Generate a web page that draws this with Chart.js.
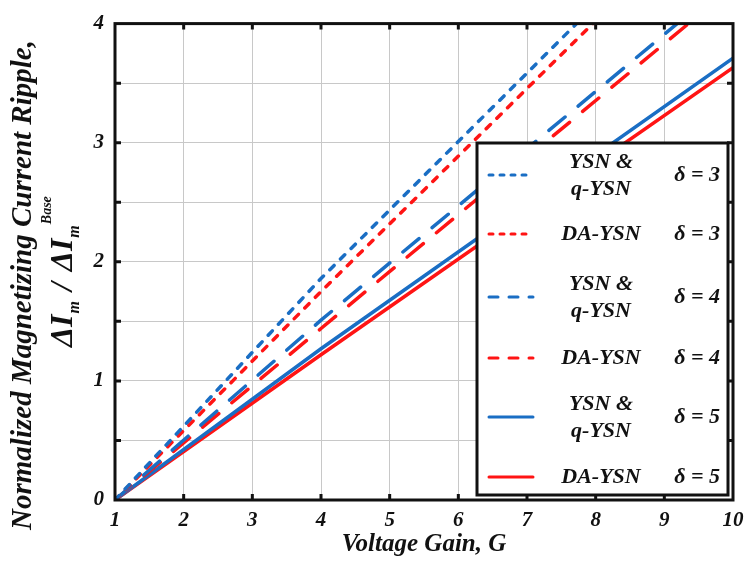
<!DOCTYPE html>
<html>
<head>
<meta charset="utf-8">
<script src="https://cdn.jsdelivr.net/npm/chart.js@4.4.1/dist/chart.umd.min.js"></script>
<style>
  html, body { margin: 0; padding: 0; background: #fff; }
</style>
</head>
<body>
<canvas id="rippleChart" width="752" height="565"></canvas>
<script>
// Normalized magnetizing current ripple vs voltage gain, read at G = 1, 4 and 10
const GAIN = [1, 4, 10];
const YSN_D3 = [0, 1.86, 5.31];   // leaves the top of the plot near G = 7.7
const DA_D3  = [0, 1.75, 5.16];
const YSN_D4 = [0, 1.51, 4.39];
const DA_D4  = [0, 1.44, 4.31];
const YSN_D5 = [0, 1.27, 3.71];
const DA_D5  = [0, 1.22, 3.63];

const X_MIN = 1, X_MAX = 10;
const Y_MIN = 0, Y_MAX = 4;

const LEGEND_NAMES = [["YSN &", "q-YSN"], ["DA-YSN"], ["YSN &", "q-YSN"], ["DA-YSN"], ["YSN &", "q-YSN"], ["DA-YSN"]];
const LEGEND_DELTAS = ["δ = 3", "δ = 3", "δ = 4", "δ = 4", "δ = 5", "δ = 5"];

const BLUE = "#1a6ec4";
const RED = "#ff1414";
const SERIF = "'Liberation Serif', 'Times New Roman', serif";
const SHORT_DASH = [6, 9];
const LONG_DASH = [21, 17];

function pts(ys) {
  return GAIN.map((g, i) => ({ x: g, y: ys[i] }));
}

function series(label, ys, color, dash) {
  return {
    label,
    data: pts(ys),
    borderColor: color,
    backgroundColor: color,
    borderWidth: 3.5,
    borderDash: dash,
    borderCapStyle: "round",
    pointRadius: 0,
    tension: 0,
    clip: 0,
  };
}

const datasets = [
  series("YSN & q-YSN δ=3", YSN_D3, BLUE, SHORT_DASH),
  series("DA-YSN δ=3", DA_D3, RED, SHORT_DASH),
  series("YSN & q-YSN δ=4", YSN_D4, BLUE, LONG_DASH),
  series("DA-YSN δ=4", DA_D4, RED, LONG_DASH),
  series("YSN & q-YSN δ=5", YSN_D5, BLUE, []),
  series("DA-YSN δ=5", DA_D5, RED, []),
];

// legend samples use a tighter dash than the plotted lines
const LEGEND_STYLE = [
  { color: BLUE, dash: [4, 7] }, { color: RED, dash: [4, 7] },
  { color: BLUE, dash: [9, 11] }, { color: RED, dash: [9, 11] },
  { color: BLUE, dash: [] }, { color: RED, dash: [] },
];
const LEGEND_ROWS = [175, 234, 297, 358, 417, 477];

// draws a run of text pieces along a rotated baseline, going upward from startY
function drawRotatedRun(ctx, x, startY, pieces) {
  ctx.save();
  ctx.translate(x, startY);
  ctx.rotate(-Math.PI / 2);
  ctx.textAlign = "left";
  ctx.textBaseline = "alphabetic";
  let pos = 0;
  for (const p of pieces) {
    ctx.font = p.f;
    pos += p.gap || 0;
    ctx.fillText(p.t, pos, p.dy || 0);
    pos += ctx.measureText(p.t).width;
  }
  ctx.restore();
}

// ---------------- frame, ticks, legend, titles ----------------
const decorPlugin = {
  id: "decor",
  afterDraw(chart) {
    const { ctx, chartArea: a, scales } = chart;
    const xs = scales.x, ys = scales.y;
    ctx.save();

    // inward tick marks
    ctx.strokeStyle = "#111";
    ctx.lineWidth = 3;
    ctx.setLineDash([]);
    ctx.beginPath();
    for (let v = X_MIN + 1; v < X_MAX; v++) {
      const px = xs.getPixelForValue(v);
      ctx.moveTo(px, a.bottom); ctx.lineTo(px, a.bottom - 6);
      ctx.moveTo(px, a.top); ctx.lineTo(px, a.top + 6);
    }
    for (let v = Y_MIN + 0.5; v < Y_MAX; v += 0.5) {
      const py = ys.getPixelForValue(v);
      ctx.moveTo(a.left, py); ctx.lineTo(a.left + 6, py);
      ctx.moveTo(a.right, py); ctx.lineTo(a.right - 6, py);
    }
    ctx.stroke();

    // legend box
    const lx = 477, ly = 143, lw = 251, lh = 352;
    ctx.fillStyle = "#fff";
    ctx.fillRect(lx, ly, lw, lh);
    ctx.lineWidth = 3;
    ctx.strokeStyle = "#111";
    ctx.strokeRect(lx, ly, lw, lh);

    ctx.textBaseline = "middle";
    LEGEND_ROWS.forEach((y, i) => {
      const st = LEGEND_STYLE[i];
      ctx.strokeStyle = st.color;
      ctx.lineWidth = 3;
      ctx.lineCap = "round";
      ctx.setLineDash(st.dash);
      ctx.beginPath();
      ctx.moveTo(489, y); ctx.lineTo(533, y);
      ctx.stroke();
      ctx.setLineDash([]);

      ctx.fillStyle = "#111";
      ctx.font = `bold italic 22px ${SERIF}`;
      ctx.textAlign = "center";
      const names = LEGEND_NAMES[i];
      if (names.length === 2) {
        ctx.fillText(names[0], 601, y - 13);
        ctx.fillText(names[1], 601, y + 14);
      } else {
        ctx.fillText(names[0], 601, y);
      }
      ctx.textAlign = "right";
      ctx.fillText(LEGEND_DELTAS[i], 720, y);
    });

    // outer frame
    ctx.strokeStyle = "#111";
    ctx.lineWidth = 3;
    ctx.strokeRect(a.left, a.top, a.right - a.left, a.bottom - a.top);

    // x title
    ctx.fillStyle = "#111";
    ctx.textAlign = "center";
    ctx.textBaseline = "alphabetic";
    ctx.font = `bold italic 25px ${SERIF}`;
    ctx.fillText("Voltage Gain, G", 424, 551);

    // y title, first line
    ctx.save();
    ctx.translate(24, 285);
    ctx.rotate(-Math.PI / 2);
    ctx.textAlign = "center";
    ctx.textBaseline = "middle";
    ctx.font = `bold italic 29px ${SERIF}`;
    ctx.fillText("Normalized Magnetizing Current Ripple,", 0, 0);
    ctx.restore();

    // y title, second line: ΔI_m / ΔI_m^Base
    const big = `bold italic 32px ${SERIF}`;
    const sub = `bold italic 16px ${SERIF}`;
    const sup = `bold italic 14px ${SERIF}`;
    drawRotatedRun(ctx, 72, 347, [
      { t: "ΔI", f: big },
      { t: "m", f: sub, dy: 7, gap: 1 },
      { t: "/", f: big, gap: 10 },
      { t: "ΔI", f: big, gap: 11 },
      { t: "m", f: sub, dy: 7, gap: 1 },
      { t: "Base", f: sup, dy: -21, gap: 1 },
    ]);

    ctx.restore();
  },
};

const tickFont = { family: SERIF, size: 21, weight: "bold", style: "italic" };

new Chart(document.getElementById("rippleChart"), {
  type: "line",
  data: { datasets },
  options: {
    responsive: false,
    animation: false,
    layout: { padding: { left: 0, right: 19, top: 10, bottom: 0 } },
    plugins: { legend: { display: false }, tooltip: { enabled: false } },
    scales: {
      x: {
        type: "linear",
        min: X_MIN,
        max: X_MAX,
        afterFit: (s) => { s.height = 65; },
        ticks: { stepSize: 1, color: "#111", font: tickFont, padding: 8, maxRotation: 0 },
        grid: { color: "#c8c8c8", lineWidth: 1, drawTicks: false },
        border: { display: false },
      },
      y: {
        min: Y_MIN,
        max: Y_MAX,
        afterFit: (s) => { s.width = 115; },
        ticks: {
          stepSize: 0.5,
          color: "#111",
          font: tickFont,
          padding: 11,
          callback: (v) => (Number.isInteger(v) ? String(v) : ""),
        },
        grid: { color: "#c8c8c8", lineWidth: 1, drawTicks: false },
        border: { display: false },
      },
    },
  },
  plugins: [decorPlugin],
});
</script>
</body>
</html>
